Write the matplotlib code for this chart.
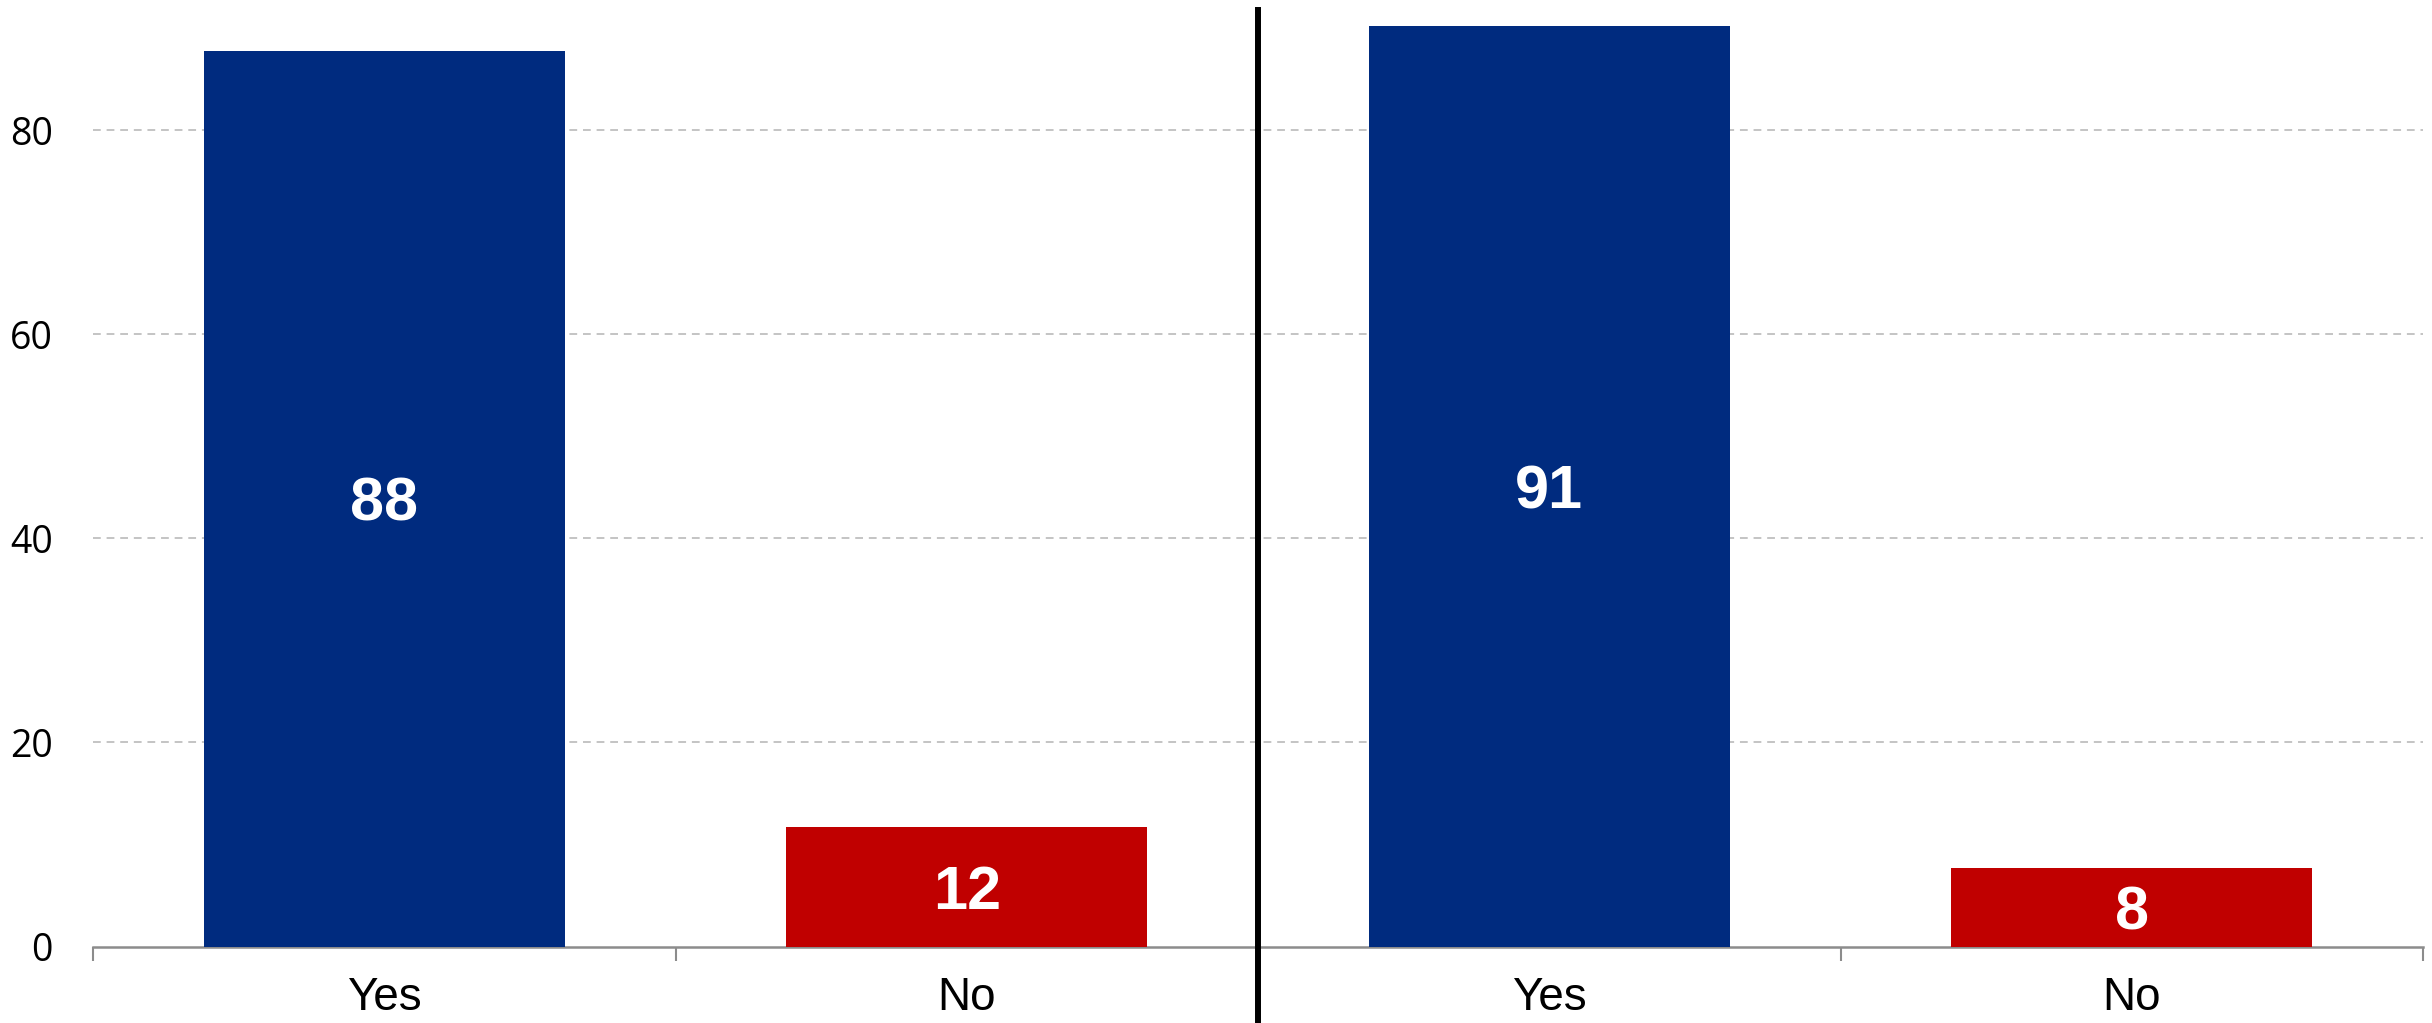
import matplotlib
matplotlib.use("Agg")
import matplotlib.pyplot as plt
from matplotlib.lines import Line2D

categories = ["Yes", "No", "Yes", "No"]
values = [87.75, 11.7, 90.2, 7.7]
value_labels = ["88", "12", "91", "8"]
bar_colors = ["#002B7F", "#C00000", "#002B7F", "#C00000"]
y_ticks = [0, 20, 40, 60, 80]

W, H = 2432, 1023
fig = plt.figure(figsize=(W / 100, H / 100), dpi=100)
left_px, right_px = 93, 2423
bottom_px = 946.5
ymax = 92.0
px_per_unit = 10.206
top_px = bottom_px - ymax * px_per_unit
ax = fig.add_axes([left_px / W, (H - bottom_px) / H,
                   (right_px - left_px) / W, (bottom_px - top_px) / H])

x = list(range(len(categories)))
bars = ax.bar(x, values, width=0.62, color=bar_colors, zorder=3)
for xi, v, lab in zip(x, values, value_labels):
    ax.text(xi, v / 2, lab, ha="center", va="center_baseline", color="white",
            fontsize=44, fontweight="bold", family="Liberation Sans", zorder=4)

ax.set_xlim(-0.5, len(categories) - 0.5)
ax.set_ylim(0, ymax)
ax.set_yticks(y_ticks)
ax.set_yticklabels([str(t) for t in y_ticks], family="Open Sans", fontsize=27)
ax.tick_params(axis="y", length=0, pad=29)

ax.set_xticks(x)
ax.set_xticklabels(categories, family="Liberation Sans", fontsize=33)
ax.set_xticks([i - 0.5 for i in range(len(categories) + 1)], minor=True)
ax.tick_params(axis="x", which="major", length=0, pad=21)
ax.tick_params(axis="x", which="minor", length=10, width=1.5, color="#8c8c8c")

for s in ["top", "right", "left"]:
    ax.spines[s].set_visible(False)
ax.spines["bottom"].set_color("#8c8c8c")
ax.spines["bottom"].set_linewidth(1.8)

for t in y_ticks[1:]:
    ax.axhline(t, color="#c4c4c4", linewidth=1.4, linestyle=(0, (4, 3)), zorder=1)

# divider between the two groups
div_x = (left_px + (right_px - left_px) / 2) / W
fig.add_artist(Line2D([div_x, div_x], [0, 1 - 10 / H], transform=fig.transFigure,
                      color="black", linewidth=4.3, zorder=5))

fig.savefig("out.png", dpi=100, facecolor="white")
